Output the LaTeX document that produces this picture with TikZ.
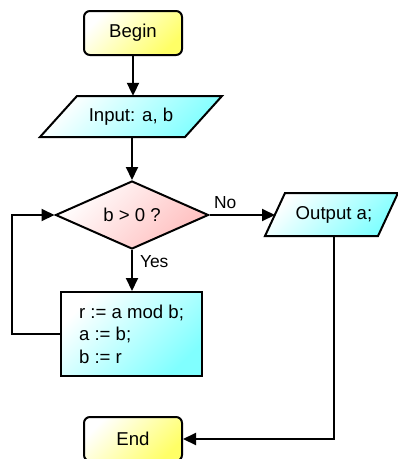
\documentclass[tikz,border=0pt]{standalone}
\usepackage{fontspec}
\setmainfont{Liberation Sans}
\usetikzlibrary{arrows.meta,shapes.geometric,backgrounds}
\definecolor{yel}{RGB}{255,255,102}
\definecolor{cy}{RGB}{128,255,255}
\definecolor{pk}{RGB}{255,190,190}
\begin{document}
\begin{tikzpicture}[x=1pt,y=-1pt,
  every node/.style={font=\fontsize{18.6}{22.5}\selectfont},
  boxline/.style={draw, line width=2pt},
  termbox/.style={boxline, rectangle, rounded corners=6pt, minimum width=98pt, minimum height=44pt, top color=white, bottom color=yel, shading angle=45},
  iobox/.style={inner sep=0pt},
  iofill/.style={draw, line width=2pt, top color=white, bottom color=cy, shading angle=45},
  procbox/.style={boxline, rectangle, minimum width=141pt, minimum height=84pt, align=left, top color=white, bottom color=cy, shading angle=45},
  decbox/.style={boxline, diamond, aspect=2.25, inner sep=0pt, minimum width=153pt, minimum height=68pt, top color=white, bottom color=pk, shading angle=45},
  arr/.style={line width=2pt, -{Triangle[length=13pt,width=12pt]}},
  lbl/.style={font=\fontsize{17.4}{20}\selectfont, inner sep=0pt}
]
\useasboundingbox (0,0) rectangle (398,459);

\node[termbox] (begin) at (133,33) {Begin};
\node[iobox, minimum width=182pt, minimum height=41pt] (inp) at (131,116.5) {Input: a, b};
\node[decbox] (dec) at (132,215) {b > 0 ?};
\node[iobox, minimum width=133pt, minimum height=43pt] (outp) at (334,214.5) {Output a;};
\coordinate (outw) at ([shift={(-59,0)}]outp.center);
\node[procbox] (proc) at (131.5,334) {r := a mod b;\\a := b;\\b := r};
\node[termbox] (end) at (133,439) {End};

\begin{scope}[on background layer]
  \path[iofill] ([shift={(-54,-20.5)}]inp.center) -- ([shift={(91,-20.5)}]inp.center)
     -- ([shift={(54,20.5)}]inp.center) -- ([shift={(-91,20.5)}]inp.center) -- cycle;
  \path[iofill] ([shift={(-49,-21.5)}]outp.center) -- ([shift={(64,-21.5)}]outp.center)
     -- ([shift={(44,21.5)}]outp.center) -- ([shift={(-69,21.5)}]outp.center) -- cycle;
\end{scope}

\draw[arr] (begin.south) -- (begin.south |- inp.north);
\draw[arr] (inp.south -| dec.north) -- (dec.north);
\draw[arr] (dec.east) -- node[lbl, pos=0, anchor=base west, xshift=3.5pt, yshift=7pt] {No} (dec.east -| outw);
\draw[arr] (dec.south) -- node[lbl, pos=0, anchor=base west, xshift=7pt, yshift=-17pt] {Yes} (dec.south |- proc.north);
\draw[arr] (proc.west) -- ++(-48,0) |- (dec.west);
\draw[arr] (outp.south) |- (end.east);
\end{tikzpicture}
\end{document}
